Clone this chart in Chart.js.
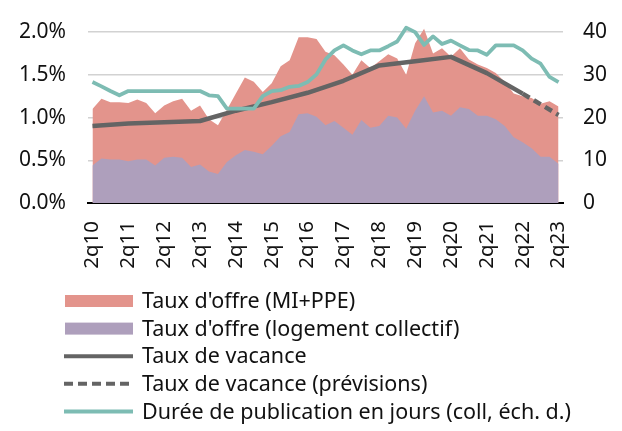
<!DOCTYPE html>
<html>
<head>
<meta charset="utf-8">
<title>Taux d'offre et taux de vacance</title>
<style>
  body { margin: 0; background: #fff; }
  #wrap { width: 622px; height: 431px; }
</style>
</head>
<body>
<div id="wrap"><canvas id="chart" width="622" height="431"></canvas></div>
<script src="https://cdn.jsdelivr.net/npm/chart.js"></script>
<script>
// quarters 2q10 .. 2q23
const quarters = [];
for (let y = 10; y <= 23; y++) {
  for (let q = 1; q <= 4; q++) {
    if ((y === 10 && q < 2) || (y === 23 && q > 2)) continue;
    quarters.push(q + 'q' + y);
  }
}

// Taux d'offre (MI+PPE), %
const offreMiPpe = [
  1.10, 1.22, 1.18, 1.18, 1.17, 1.21, 1.17, 1.05, 1.14, 1.19,
  1.22, 1.08, 1.14, 0.98, 0.91, 1.09, 1.28, 1.47, 1.42, 1.30,
  1.40, 1.60, 1.67, 1.94, 1.94, 1.92, 1.77, 1.73, 1.62, 1.50,
  1.67, 1.58, 1.66, 1.74, 1.69, 1.50, 1.87, 2.04, 1.75, 1.81,
  1.71, 1.81, 1.68, 1.62, 1.58, 1.52, 1.42, 1.28, 1.25, 1.23,
  1.16, 1.19, 1.13
];

// Taux d'offre (logement collectif), %
const offreCollectif = [
  0.44, 0.52, 0.51, 0.51, 0.49, 0.51, 0.51, 0.44, 0.53, 0.54,
  0.53, 0.42, 0.45, 0.37, 0.34, 0.48, 0.56, 0.62, 0.60, 0.57,
  0.67, 0.78, 0.83, 1.04, 1.05, 1.01, 0.91, 0.96, 0.88, 0.80,
  0.97, 0.88, 0.90, 1.02, 1.00, 0.87, 1.08, 1.25, 1.06, 1.08,
  1.02, 1.12, 1.10, 1.02, 1.02, 0.98, 0.90, 0.77, 0.71, 0.64,
  0.54, 0.54, 0.46
];

// Taux de vacance (annual, 1 June), %
const vacanceDates = ['2q10', '2q11', '2q12', '2q13', '2q14', '2q15', '2q16',
  '2q17', '2q18', '2q19', '2q20', '2q21', '2q22'];
const vacanceValues = [0.90, 0.93, 0.945, 0.96, 1.08, 1.18, 1.29,
  1.43, 1.61, 1.66, 1.71, 1.52, 1.28];

const previsionDates = ['2q22', '2q23'];
const previsionValues = [1.28, 1.03];

// Durée de publication en jours (coll), right axis
const dureePublication = [
  28.3, 27.3, 26.2, 25.2, 26.2, 26.2, 26.2, 26.2, 26.2, 26.2,
  26.2, 26.2, 26.2, 25.2, 25.0, 22.1, 22.1, 22.1, 22.1, 25.0,
  26.2, 26.4, 27.2, 27.4, 28.3, 30.1, 33.6, 35.7, 36.9, 35.7,
  34.8, 35.7, 35.7, 36.7, 37.8, 41.0, 40.0, 37.0, 39.0, 37.2,
  38.0, 36.9, 35.8, 35.7, 34.7, 36.9, 36.9, 36.9, 35.7, 33.8,
  32.6, 29.5, 28.3
];

const FONT = 'Noto Sans';
const TEXT = '#111';

const toPoints = (xs, ys) => xs.map((x, i) => ({ x: x, y: ys[i] }));

// one legend row per dataset, drawn under the axis labels
const rowLegend = {
  id: 'rowLegend',
  afterDraw(chart) {
    const ctx = chart.ctx;
    ctx.save();
    ctx.font = '21.5px "' + FONT + '"';
    ctx.textBaseline = 'middle';
    chart.data.datasets.forEach((ds, i) => {
      const y = 301 + i * 27.6;
      if (ds.fill) {
        ctx.fillStyle = ds.backgroundColor;
        ctx.fillRect(65, y - 6, 68, 12);
      } else {
        ctx.strokeStyle = ds.borderColor;
        ctx.lineWidth = 4;
        ctx.setLineDash(ds.borderDash ? [9, 5] : []);
        ctx.beginPath();
        ctx.moveTo(64, y);
        ctx.lineTo(133, y);
        ctx.stroke();
        ctx.setLineDash([]);
      }
      ctx.fillStyle = TEXT;
      ctx.fillText(ds.label, 142, y + 1);
    });
    ctx.restore();
  }
};

// the vertical axes reserve room for half a label above the plot; drop it
const noVerticalPad = s => { s.paddingTop = 0; s.paddingBottom = 0; };

new Chart(document.getElementById('chart'), {
  type: 'line',
  data: {
    labels: quarters,
    datasets: [
      {
        label: "Taux d'offre (MI+PPE)",
        data: offreMiPpe,
        yAxisID: 'y',
        backgroundColor: '#e3948c',
        borderWidth: 0,
        fill: 'origin',
        order: 5
      },
      {
        label: "Taux d'offre (logement collectif)",
        data: offreCollectif,
        yAxisID: 'y',
        backgroundColor: '#ae9fbc',
        borderWidth: 0,
        fill: 'origin',
        order: 4
      },
      {
        label: 'Taux de vacance',
        data: toPoints(vacanceDates, vacanceValues),
        yAxisID: 'y',
        borderColor: '#646464',
        borderWidth: 4.5,
        fill: false,
        order: 2
      },
      {
        label: 'Taux de vacance (prévisions)',
        data: toPoints(previsionDates, previsionValues),
        yAxisID: 'y',
        borderColor: '#646464',
        borderWidth: 4.5,
        borderDash: [8, 5],
        fill: false,
        order: 2
      },
      {
        label: 'Durée de publication en jours (coll, éch. d.)',
        data: dureePublication,
        yAxisID: 'y1',
        borderColor: '#7dbcb3',
        borderWidth: 3.8,
        fill: false,
        order: 1
      }
    ]
  },
  options: {
    responsive: false,
    animation: false,
    layout: { padding: { top: 15, bottom: 148, left: 0, right: 0 } },
    elements: {
      point: { radius: 0 },
      line: { tension: 0, borderCapStyle: 'butt', borderJoinStyle: 'round' }
    },
    plugins: {
      legend: { display: false },
      tooltip: { enabled: false }
    },
    scales: {
      x: {
        offset: true,
        grid: { display: false, drawTicks: false },
        border: { display: true, color: '#000', width: 2 },
        ticks: {
          autoSkip: false,
          maxRotation: 90,
          minRotation: 90,
          padding: 18,
          color: TEXT,
          font: { family: FONT, size: 20.5 },
          callback: function (v, i) { return i % 4 === 0 ? quarters[i] : ''; }
        },
        afterFit: s => { s.height = 80; s.paddingLeft = 0; s.paddingRight = 0; }
      },
      y: {
        position: 'left',
        min: 0,
        max: 2.2,
        border: { display: false },
        grid: {
          drawTicks: false,
          color: ctx => ctx.tick.value === 0 ? 'rgba(0,0,0,0)' : '#d2d2d2',
          lineWidth: 1.5
        },
        ticks: {
          stepSize: 0.5,
          includeBounds: false,
          padding: 22,
          color: TEXT,
          font: { family: FONT, size: 21 },
          callback: v => v.toFixed(1) + '%'
        },
        afterBuildTicks: s => { s.ticks = s.ticks.filter(t => t.value <= 2.0001); },
        afterFit: s => { s.width = 88; noVerticalPad(s); }
      },
      y1: {
        position: 'right',
        min: 0,
        max: 44,
        border: { display: false },
        grid: { display: false, drawTicks: false },
        ticks: {
          stepSize: 10,
          includeBounds: false,
          padding: 20,
          color: TEXT,
          font: { family: FONT, size: 21 }
        },
        afterBuildTicks: s => { s.ticks = s.ticks.filter(t => t.value <= 40); },
        afterFit: s => { s.width = 59; noVerticalPad(s); }
      }
    }
  },
  plugins: [rowLegend]
});
</script>
</body>
</html>
